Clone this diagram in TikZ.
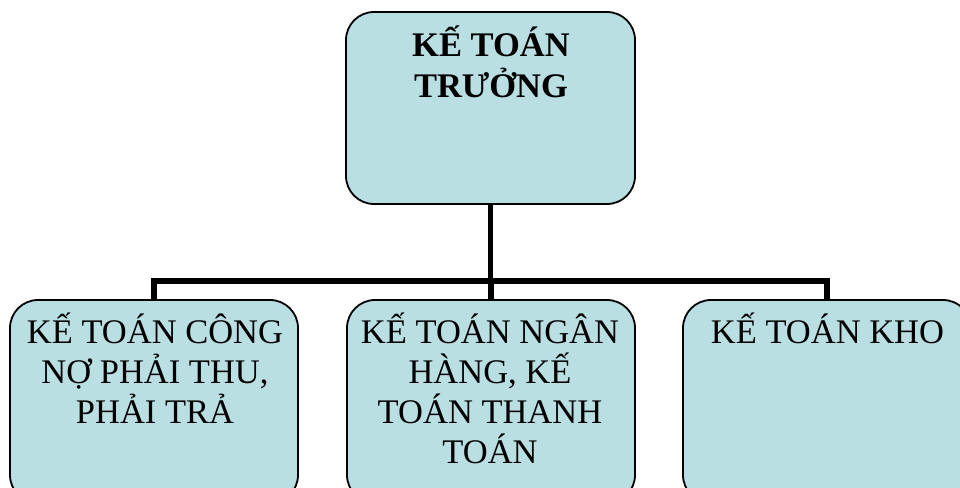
\documentclass[tikz,border=0pt]{standalone}
\usepackage{fontspec}
\setmainfont{Liberation Serif}
\usepackage{xcolor}
\usetikzlibrary{positioning, calc}
\definecolor{boxfill}{RGB}{185,223,227}
\tikzset{
  box/.style={draw, line width=1.8pt, fill=boxfill, rounded corners=28pt, minimum width=288pt, inner sep=0pt},
  toplabel/.style={anchor=base, align=center, inner sep=0pt, font=\fontsize{34.5}{41}\selectfont\bfseries},
  label/.style={anchor=base, align=center, inner sep=0pt, font=\fontsize{34.5}{40}\selectfont},
  link/.style={line width=5.5pt}
}
\begin{document}
\begin{tikzpicture}[x=1pt, y=-1pt]
\useasboundingbox (0,0) rectangle (960,487);
\clip (0,0) rectangle (960,487);
% head
\node[box, minimum width=289pt, minimum height=192pt] (truong) at (490.5,108) {};
\node[toplabel] (truongtxt) at (491,97) {KẾ TOÁN\\TRƯỞNG};

% staff
\node[box, minimum height=203pt] (congno) at (154,401.5) {};
\node[box, minimum height=203pt] (nganhang) at (491,401.5) {};
\node[box, minimum height=203pt] (kho) at (827,401.5) {};
\node[label] (congnotxt) at (155,423) {KẾ TOÁN CÔNG\\NỢ PHẢI THU,\\PHẢI TRẢ};
\node[label] (nganhangtxt) at (490,463) {KẾ TOÁN NGÂN\\HÀNG, KẾ\\TOÁN THANH\\TOÁN};
\node[label] (khotxt) at (827.5,343) {KẾ TOÁN KHO};

% links
\coordinate (bar) at (0,281);
\draw[link] (truong.south) -- (truong.south |- bar);
\draw[link] (congno.north) |- (kho.north |- bar) -- (kho.north);
\draw[link] (nganhang.north) -- (nganhang.north |- bar);
\end{tikzpicture}
\end{document}
